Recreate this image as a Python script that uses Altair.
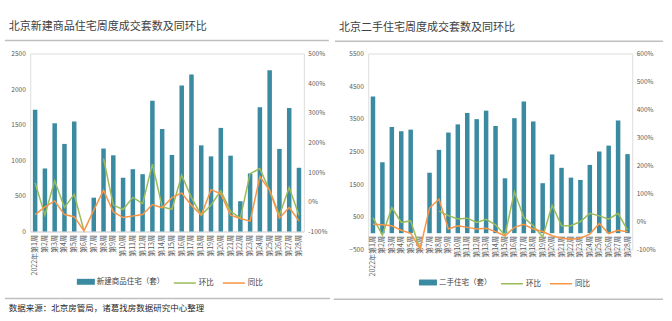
import altair as alt
import pandas as pd

weeks = ["2022年第1周", "第2周", "第3周", "第4周", "第5周", "第6周", "第7周", "第8周", "第9周", "第10周",
         "第11周", "第12周", "第13周", "第14周", "第15周", "第16周", "第17周", "第18周", "第19周", "第20周",
         "第21周", "第22周", "第23周", "第24周", "第25周", "第26周", "第27周", "第28周"]

new_units = [1710, 885, 1520, 1230, 1545, 0, 475, 1165, 1070, 755, 875, 805, 1835, 1440,
             1075, 2050, 2205, 1210, 1055, 1455, 1065, 425, 815, 1745, 2265, 1160, 1735, 895]
new_hb = [64, -45, 71, -19, 25, -98, None, 146, -11, -26, 15, -6, 127, -17,
          -25, 90, 14, -45, -11, 37, -32, -55, 95, 112, 38, -45, 48, -45]
new_tb = [-43, -17, 3, -43, -50, -98, -28, 39, -34, -53, -48, -43, -9, -20,
          14, 30, -12, -45, 41, 27, -45, -56, -65, 85, 39, -55, -19, -64]

old_units = [4180, 2170, 3250, 3120, 3170, 0, 1850, 2550, 3080, 3330, 3680, 3490, 3750, 3280,
             1680, 3520, 4030, 3420, 1530, 2410, 2000, 1700, 1630, 2090, 2500, 2680, 3450, 2420]
old_hb = [14, -49, 50, -3, 2, -100, None, 37, 21, 9, 12, -3, 8, -12,
          -49, 106, 14, -15, -55, 58, -15, -15, 0, 29, 20, 8, 29, -31]
old_tb = [-10, -12, -15, -31, -42, -97, 48, 80, -27, -15, -21, -27, -24, -36,
          -51, -21, -10, -27, -36, -51, -60, -63, -60, -45, -7, -43, -31, -37]

metrics = ["环比", "同比"]
new_ticks = [0, 500, 1000, 1500, 2000, 2500]
new_pct_ticks = [-100, 0, 100, 200, 300, 400, 500]
old_ticks = [-500, 500, 1500, 2500, 3500, 4500, 5500]
old_pct_ticks = [-100, 0, 100, 200, 300, 400, 500, 600]

title_new = "北京新建商品住宅周度成交套数及同环比"
title_old = "北京二手住宅周度成交套数及同环比"
bar_new = "新建商品住宅（套）"
bar_old = "二手住宅（套）"
source = "数据来源：北京房管局，诸葛找房数据研究中心整理"

FONT = "Noto Sans CJK SC"
TEAL = "#3a8aa1"
GREEN = "#9bbb59"
ORANGE = "#f79646"
GRAY = "#595959"
SEP = "#bfbfbf"


def panel(units, hb, tb, bar_name, y_dom, y_vals, p_dom, p_vals, width, height,
          ox, oy, title, x_offset, show_domain, leg_bar, leg_line, with_source,
          bottom_x1, bottom_x2, title_x1, title_x2):
    bars_df = pd.DataFrame({"week": weeks, "units": units, "series": [bar_name] * len(weeks)})
    lines_df = pd.DataFrame({
        "week": weeks * 2,
        "pct": hb + tb,
        "metric": [metrics[0]] * len(weeks) + [metrics[1]] * len(weeks),
    })
    one = pd.DataFrame({"a": [0]})

    x_enc = alt.X("week:N", sort=weeks,
                  scale=alt.Scale(paddingInner=0, paddingOuter=0),
                  axis=alt.Axis(title=None, labelAngle=270, labelFontSize=7, labelColor=GRAY,
                                ticks=False, domain=show_domain, domainColor="#d9d9d9",
                                labelPadding=3, labelOverlap=False, offset=x_offset))

    bars = alt.Chart(bars_df).mark_bar(size=4.5).encode(
        x=x_enc,
        y=alt.Y("units:Q", scale=alt.Scale(domain=y_dom, nice=False, zero=False),
                axis=alt.Axis(values=y_vals, format="d", title=None, grid=False, domain=False,
                              ticks=False, labelFontSize=6.5, labelColor=GRAY, labelPadding=5,
                              orient="left")),
        color=alt.Color("series:N", scale=alt.Scale(domain=[bar_name], range=[TEAL]),
                        legend=alt.Legend(title=None, orient="none", legendX=leg_bar[0],
                                          legendY=leg_bar[1], padding=0,
                                          symbolType="M-1,-0.33L1,-0.33L1,0.33L-1,0.33Z",
                                          symbolSize=324, symbolStrokeWidth=0,
                                          labelFontSize=7.5, labelColor="#404040",
                                          labelOffset=2, labelFont=FONT)),
    )

    lines = alt.Chart(lines_df).mark_line(strokeWidth=1.5,
                                          invalid="break-paths-show-domains").encode(
        x=alt.X("week:N", sort=weeks),
        y=alt.Y("pct:Q", scale=alt.Scale(domain=p_dom, nice=False, zero=False),
                axis=alt.Axis(values=p_vals, labelExpr="datum.value + '%'", title=None,
                              grid=False, domain=False, ticks=False, labelFontSize=6.5,
                              labelColor=GRAY, labelPadding=4, orient="right")),
        color=alt.Color("metric:N", scale=alt.Scale(domain=metrics, range=[GREEN, ORANGE]),
                        legend=alt.Legend(title=None, orient="none", direction="horizontal",
                                          legendX=leg_line[0], legendY=leg_line[1], padding=0,
                                          symbolType="stroke", symbolSize=484,
                                          symbolStrokeWidth=1.5, labelFontSize=7.5,
                                          labelColor="#404040", labelOffset=2,
                                          columnPadding=6, labelFont=FONT)),
        detail="metric:N",
    )

    deco = [
        alt.Chart(one).mark_rule(color=SEP, strokeWidth=1.5).encode(
            x=alt.value(title_x1 - ox), x2=alt.value(title_x2 - ox), y=alt.value(38.7 - oy)),
        alt.Chart(one).mark_rule(color=SEP, strokeWidth=1.5).encode(
            x=alt.value(bottom_x1 - ox), x2=alt.value(bottom_x2 - ox), y=alt.value(296.7 - oy)),
        alt.Chart(one).mark_text(align="left", baseline="middle", fontSize=11, color="#404040",
                                 font=FONT).encode(
            x=alt.value(title[1] - ox), y=alt.value(25 - oy), text=alt.value(title[0])),
    ]
    if with_source:
        deco.append(alt.Chart(one).mark_text(align="left", baseline="middle", fontSize=8.5,
                                             color="#262626", font=FONT).encode(
            x=alt.value(8 - ox), y=alt.value(306 - oy), text=alt.value(source)))

    return alt.layer(bars, lines, *deco).resolve_scale(y="independent", color="independent").properties(
        width=width, height=height)


OX1, OY1 = 29.4, 51.7
OX2, OY2 = 365.3, 51.0

left = panel(new_units, new_hb, new_tb, bar_new, [0, 2500], new_ticks, [-100, 500], new_pct_ticks,
             273.6, 178, OX1, OY1, (title_new, 8), 0, True,
             (76 - OX1, 271 - OY1), (172 - OX1, 269 - OY1), True,
             4, 329.25, 4, 328)
right = panel(old_units, old_hb, old_tb, bar_old, [-500, 5500], old_ticks, [-100, 600], old_pct_ticks,
              264, 196, OX2, OY2, (title_old, 336), -17, False,
              (416 - OX2, 271 - OY2), (497 - OX2, 269 - OY2), False,
              330.75, 660, 332, 660)

chart = alt.hconcat(left, right, spacing=0).resolve_scale(color="independent").properties(
    padding={"left": 3.25, "top": 19.5, "right": 0, "bottom": 0}
).configure_view(stroke=None).configure(font=FONT, background="white")

chart.save("out.html", embed_options={"renderer": "svg", "actions": False})
